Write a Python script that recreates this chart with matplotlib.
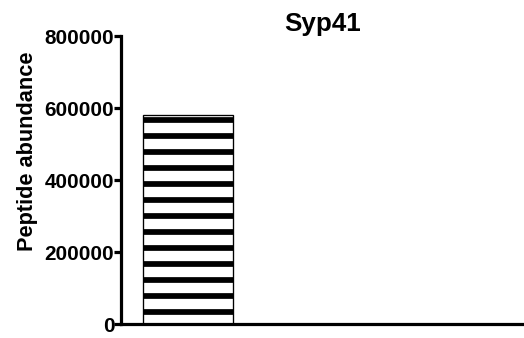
import numpy as np
import matplotlib
matplotlib.use('Agg')
import matplotlib.pyplot as plt

# data
categories = ['Syp41', '']
values = [580000, 0]
yticks = [0, 200000, 400000, 600000, 800000]

plt.rcParams['font.family'] = ['Liberation Sans', 'DejaVu Sans']
plt.rcParams['font.weight'] = 'bold'
plt.rcParams['hatch.linewidth'] = 4.3
plt.rcParams['hatch.color'] = 'black'

dpi = 96
fig = plt.figure(figsize=(524 / dpi, 338 / dpi), dpi=dpi)
ax = fig.add_axes([121 / 524, 1 - 324 / 338, 403 / 524, 288 / 338])

x = np.arange(len(values))
ax.bar(x[:1], values[:1], width=0.8, color='white', edgecolor='black',
       linewidth=1.0, hatch='-')

ax.set_xlim(-0.6, 3.0)
ax.set_ylim(0, 800000)
ax.set_yticks(yticks)
ax.set_yticklabels([str(v) for v in yticks], fontsize=15.5, fontweight='bold')
ax.set_xticks([])
ax.set_ylabel('Peptide abundance', fontsize=16.3, fontweight='bold')
ax.yaxis.set_label_coords(-0.207, 0.60)
ax.set_title('Syp41', fontsize=19.5, fontweight='bold', pad=4)

for s in ['top', 'right']:
    ax.spines[s].set_visible(False)
for s in ['left', 'bottom']:
    ax.spines[s].set_linewidth(2.4)
ax.tick_params(axis='y', width=2.4, length=5, pad=0)

fig.savefig('out.png', dpi=dpi)
